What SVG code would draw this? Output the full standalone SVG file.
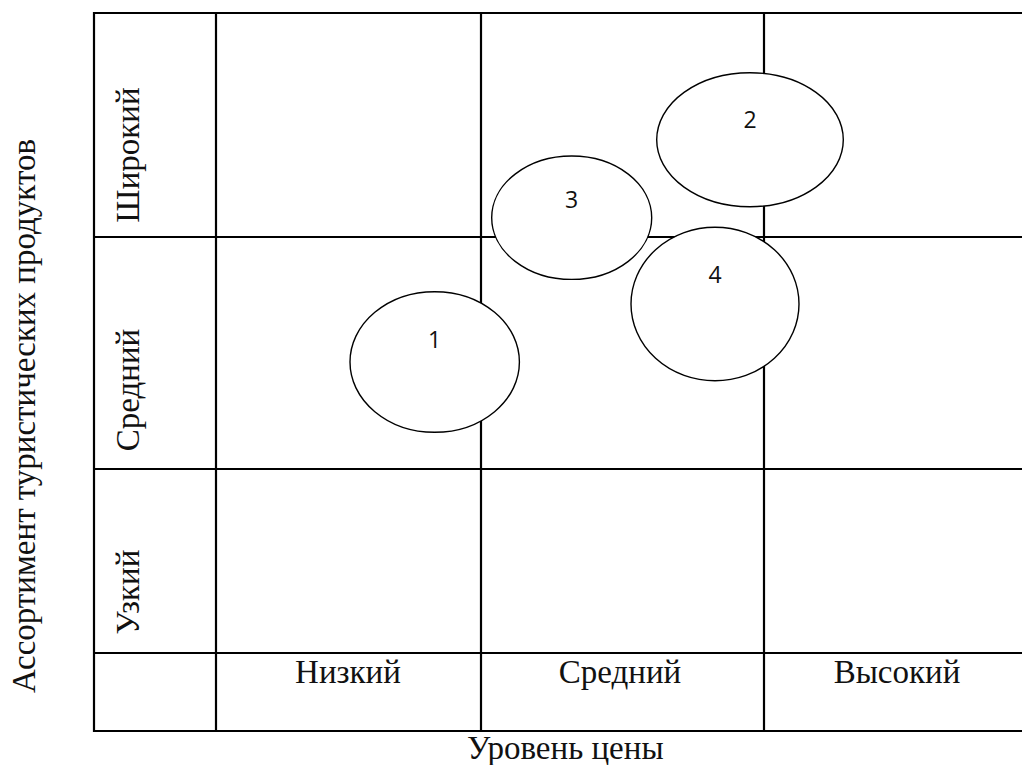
<svg xmlns="http://www.w3.org/2000/svg" width="1022" height="765" viewBox="0 0 1022 765">
<style>
.grid{stroke:#000;stroke-width:2.2;fill:none}
.ell{fill:#fff;stroke:#000;stroke-width:1.4}
.serif{font-family:"Liberation Serif","Times New Roman",serif;font-size:33px;fill:#111}
.num{font-family:"Open Sans","Noto Sans","Liberation Sans",sans-serif;font-size:23px;fill:#111;text-anchor:middle}
</style>
<rect width="1022" height="765" fill="#fff"/>
<g id="grid">
<line class="grid" x1="93" y1="13" x2="1030" y2="13"/>
<line class="grid" x1="93" y1="237" x2="1030" y2="237"/>
<line class="grid" x1="93" y1="469" x2="1030" y2="469"/>
<line class="grid" x1="93" y1="653" x2="1030" y2="653"/>
<line class="grid" x1="93" y1="731" x2="1030" y2="731"/>
<line class="grid" x1="94" y1="12" x2="94" y2="732"/>
<line class="grid" x1="216" y1="12" x2="216" y2="732"/>
<line class="grid" x1="481" y1="12" x2="481" y2="732"/>
<line class="grid" x1="764" y1="12" x2="764" y2="732"/>
</g>
<g id="labels">
<text class="serif" text-anchor="middle" transform="translate(35,416) rotate(-90)">Ассортимент туристических продуктов</text>
<text class="serif" text-anchor="middle" transform="translate(139,155) rotate(-90)">Широкий</text>
<text class="serif" text-anchor="middle" transform="translate(139,390) rotate(-90)">Средний</text>
<text class="serif" text-anchor="middle" transform="translate(139,592) rotate(-90)">Узкий</text>
<text class="serif" text-anchor="middle" x="348" y="683">Низкий</text>
<text class="serif" text-anchor="middle" x="620" y="683">Средний</text>
<text class="serif" text-anchor="middle" x="897" y="683">Высокий</text>
<text class="serif" x="467" y="759">Уровень цены</text>
</g>
<g id="n1"><ellipse class="ell" cx="434.7" cy="362" rx="84.7" ry="70.3"/><text class="num" x="434.5" y="348">1</text></g>
<g id="n2"><ellipse class="ell" cx="750" cy="139.7" rx="93.3" ry="67"/><text class="num" x="750" y="128">2</text></g>
<g id="n3"><ellipse class="ell" cx="571.7" cy="217.7" rx="80" ry="61.7"/><text class="num" x="571.7" y="208">3</text></g>
<g id="n4"><ellipse class="ell" cx="715" cy="304" rx="84" ry="76.7"/><text class="num" x="715" y="283">4</text></g>
</svg>
